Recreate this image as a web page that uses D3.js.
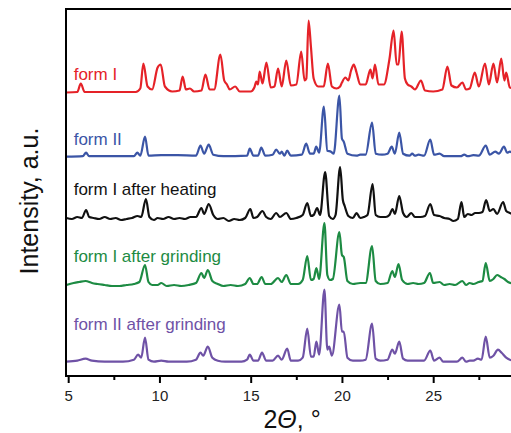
<!DOCTYPE html>
<html>
<head>
<meta charset="utf-8">
<script src="https://cdn.jsdelivr.net/npm/d3@7"></script>
<style>
  body { margin: 0; background: #fff; }
  svg { display: block; font-family: "Liberation Sans", Arial, sans-serif; }
</style>
</head>
<body>
<div class="container"></div>
<script>
// diffraction patterns: [2theta, intensity above own baseline]
const formI = [
  [4.9,0],[5.5,0.5],[5.69,9],[5.9,0.5],[8.7,0.5],[8.95,4],[9.12,29],[9.35,6],[9.6,3],[9.9,25],[10.07,28],
  [10.3,6],[10.7,1],[11.1,2],[11.27,16],[11.45,3],[11.67,4],[11.9,1],[12.3,2],[12.52,18],[12.75,3],[13.0,3],
  [13.34,38],[13.55,12],[13.7,8],[13.85,3],[14.15,6],[14.4,1],[15.0,1],[15.2,5],[15.31,11],[15.4,8],[15.49,21],
  [15.65,9],[15.86,30],[16.1,5],[16.3,6],[16.5,24],[16.7,6],[16.95,32],[17.2,7],[17.5,8],[17.77,41],[17.95,12],
  [18.05,14],[18.17,72],[18.3,46],[18.45,14],[18.7,6],[19.0,6],[19.23,29],[19.45,6],[19.7,4],[19.9,6],[20.0,10],
  [20.19,15],[20.35,12],[20.5,22],[20.65,28],[20.8,20],[21.0,8],[21.3,8],[21.56,23],[21.68,14],[21.81,28],
  [22.0,8],[22.3,8],[22.6,33],[22.83,62],[23.0,28],[23.1,28],[23.27,61],[23.45,14],[23.6,8],[23.8,6],[24.0,3],
  [24.33,12],[24.55,2],[25.0,1],[25.5,3],[25.78,26],[26.0,7],[26.3,5],[26.6,10],[26.8,3],[27.0,4],[27.28,20],
  [27.5,6],[27.84,29],[28.05,8],[28.3,29],[28.5,10],[28.73,34],[28.9,12],[29.0,20],[29.2,5],[29.5,4]
];
const formII = [
  [4.9,0],[5.8,0.5],[5.98,4],[6.15,0.5],[8.6,0.5],[8.79,4],[8.95,1],[9.21,20],[9.4,1],[10.1,1.5],[11.0,1.5],
  [12.0,1],[12.25,11],[12.45,3],[12.7,12],[12.95,2],[13.5,0.5],[14.8,1],[14.95,8],[15.15,1],[15.4,1],[15.58,9],
  [15.8,1],[16.2,2],[16.4,7],[16.6,3],[16.7,5],[16.85,1],[17.0,6],[17.2,1],[17.8,2],[18.04,13],[18.25,3],
  [18.45,3],[18.59,10],[18.75,4],[19.01,50],[19.2,6],[19.4,5],[19.55,3],[19.86,61],[20.0,18],[20.1,15],[20.3,3],
  [20.8,1],[21.0,2],[21.3,2],[21.65,34],[21.85,3],[22.2,2],[22.5,3],[22.73,10],[22.9,3],[23.14,24],[23.35,3],
  [23.7,1],[23.85,3],[24.0,1],[24.2,2],[24.5,1],[24.84,17],[25.05,2],[25.35,3],[25.6,0.5],[26.5,0.5],[26.7,2],
  [26.9,0.5],[27.2,1.5],[27.5,1],[27.88,11],[28.1,2],[28.4,5],[28.6,3],[28.88,10],[29.05,4],[29.2,5],[29.5,1]
];
const formIHeated = [
  [4.9,0],[5.2,-1],[5.5,1],[5.75,0],[5.98,8],[6.15,1],[6.4,0],[6.7,-1],[7.0,1],[7.3,-1],[7.6,0],[7.9,-2],
  [8.2,-1],[8.5,0],[8.8,2],[9.0,1],[9.26,19],[9.45,1],[9.7,-2],[9.9,0],[10.2,-1],[10.5,1],[10.8,-1],[11.1,0],
  [11.4,-1],[11.7,1],[12.0,1],[12.3,10],[12.45,4],[12.7,14],[12.95,3],[13.2,-1],[13.5,0],[13.8,-3],[14.1,-1],
  [14.4,-2],[14.7,0],[14.98,9],[15.15,0],[15.35,1],[15.64,7],[15.85,1],[16.1,-1],[16.4,5],[16.6,1],[16.95,5],
  [17.2,-1],[17.5,0],[17.85,3],[18.1,15],[18.3,2],[18.45,3],[18.64,10],[18.8,3],[19.08,46],[19.3,2],[19.5,-1],
  [19.65,3],[19.9,51],[20.05,18],[20.15,12],[20.35,2],[20.6,0],[20.8,5],[21.0,0],[21.2,1],[21.4,3],[21.68,34],
  [21.85,3],[22.1,1],[22.4,1],[22.6,3],[22.77,9],[22.9,4],[23.14,22],[23.35,5],[23.55,1],[23.8,5],[24.0,1],
  [24.3,1],[24.55,2],[24.84,14],[25.05,3],[25.35,2],[25.6,0],[25.9,-1],[26.1,-3],[26.35,-1],[26.55,16],[26.7,1],
  [26.9,4],[27.1,3],[27.3,5],[27.5,5],[27.7,6],[27.9,18],[28.1,7],[28.3,9],[28.5,4],[28.83,16],[29.0,7],
  [29.2,5],[29.5,3]
];
const formIGround = [
  [4.9,0],[5.3,2],[5.6,3],[5.95,4],[6.3,2],[6.6,1],[7.0,0],[7.4,-1],[7.8,-1],[8.2,0],[8.6,1],[8.9,3],[9.21,20],
  [9.4,3],[9.6,0],[9.9,0],[10.1,2],[10.4,-1],[10.8,0],[11.2,-1],[11.6,0],[12.0,2],[12.3,12],[12.45,7],[12.65,15],
  [12.9,4],[13.2,1],[13.5,-1],[13.9,0],[14.3,-1],[14.7,1],[14.95,7],[15.15,1],[15.35,1],[15.6,8],[15.8,1],
  [16.1,1],[16.5,7],[16.7,3],[16.95,10],[17.2,1],[17.6,1],[17.85,5],[18.1,29],[18.3,5],[18.45,6],[18.6,17],
  [18.75,6],[19.04,62],[19.2,10],[19.35,5],[19.5,6],[19.86,53],[20.0,30],[20.1,28],[20.3,4],[20.6,1],[21.0,2],
  [21.3,2],[21.65,39],[21.85,4],[22.1,1],[22.5,2],[22.76,14],[22.9,8],[23.1,21],[23.3,5],[23.6,1],[23.9,2],
  [24.2,1],[24.5,2],[24.82,12],[25.0,2],[25.35,3],[25.6,0],[25.9,1],[26.2,0],[26.6,4],[26.8,0],[27.0,2],
  [27.2,1],[27.5,3],[27.7,4],[27.88,22],[28.1,4],[28.3,6],[28.5,10],[28.7,8],[28.9,6],[29.1,3],[29.5,1]
];
const formIIGround = [
  [4.9,0],[5.5,1],[5.95,3],[6.3,1],[7.0,0],[8.0,0],[8.6,2],[8.83,7],[9.0,4],[9.21,24],[9.4,2],[9.7,0],[10.1,1],
  [10.5,0],[11.5,0],[12.0,2],[12.25,9],[12.4,6],[12.65,15],[12.9,4],[13.2,1],[13.6,0],[14.5,0],[14.8,2],
  [14.95,7],[15.15,1],[15.4,1],[15.62,9],[15.85,1],[16.2,1],[16.5,6],[16.7,2],[17.0,13],[17.2,1],[17.6,1],
  [17.85,4],[18.1,33],[18.3,5],[18.45,5],[18.6,20],[18.75,7],[19.04,72],[19.2,12],[19.3,15],[19.45,6],
  [19.86,57],[20.0,30],[20.1,30],[20.3,4],[20.6,1],[21.0,1],[21.3,2],[21.65,38],[21.85,3],[22.1,1],[22.5,2],
  [22.76,12],[22.9,8],[23.14,20],[23.35,3],[23.6,1],[23.85,1],[24.1,1],[24.3,1],[24.5,1],[24.84,11],[25.05,1],
  [25.35,4],[25.55,0],[26.0,0],[26.3,0],[26.6,4],[26.8,0],[27.0,1],[27.2,1],[27.45,3],[27.65,2],[27.88,25],
  [28.1,4],[28.3,6],[28.55,12],[28.75,9],[29.0,4],[29.2,2],[29.5,1]
];

const names = ['form I', 'form II', 'form I after heating', 'form I after grinding', 'form II after grinding'];
const offsets = [283.5, 219.3, 158, 91, 14.3]; // vertical stacking, a.u.
const xTicks = [5, 10, 15, 20, 25];
const xMinor = [7.5, 12.5, 17.5, 22.5, 27.5];

const series = [formI, formII, formIHeated, formIGround, formIIGround];
const colors = ['#e52228', '#3b55a6', '#111111', '#1d8b43', '#6f52a6'];
const labelLift = [12.5, 12, 23, 23, 31.5];

const width = 511;
const height = 433;
const margin = { top: 9, left: 66, bottom: 57 };

const svg = d3
  .select('.container')
  .append('svg')
  .attr('width', width)
  .attr('height', height);

const x = d3.scaleLinear().domain([4.88, 30]).range([margin.left, margin.left + 25.12 * 18.25]);
const y = d3.scaleLinear().domain([0, 367]).range([height - margin.bottom, margin.top]);

const line = d3
  .line()
  .x((d) => x(d[0]))
  .curve(d3.curveMonotoneX);

svg
  .append('g')
  .attr('class', 'patterns')
  .selectAll('path')
  .data(series)
  .join('path')
  .attr('fill', 'none')
  .attr('stroke', (d, i) => colors[i])
  .attr('stroke-width', 2.2)
  .attr('stroke-linejoin', 'round')
  .attr('d', (d, i) => line.y((p) => y(p[1] + offsets[i]))(d));

svg
  .append('g')
  .attr('class', 'labels')
  .selectAll('text')
  .data(names)
  .join('text')
  .attr('x', x(5.3))
  .attr('y', (d, i) => y(offsets[i]) - labelLift[i])
  .attr('fill', (d, i) => colors[i])
  .attr('font-size', 17)
  .text((d) => d);

// frame
svg
  .append('rect')
  .attr('x', margin.left)
  .attr('y', margin.top)
  .attr('width', x(30) - margin.left)
  .attr('height', y(0) - margin.top)
  .attr('fill', 'none')
  .attr('stroke', '#000')
  .attr('stroke-width', 2);

const xAxis = svg
  .append('g')
  .attr('class', 'x-axis')
  .attr('transform', `translate(0, ${y(0)})`)
  .call(d3.axisBottom(x).tickValues(xTicks).tickSize(7).tickSizeOuter(0).tickPadding(7).tickFormat(d3.format('d')));
xAxis.select('.domain').remove();
xAxis.selectAll('line').attr('stroke-width', 2);
xAxis.selectAll('text').attr('font-size', 15).attr('fill', '#222').attr('font-family', 'Liberation Sans, Arial, sans-serif');

svg
  .append('g')
  .attr('class', 'x-minor')
  .attr('transform', `translate(0, ${y(0)})`)
  .call(d3.axisBottom(x).tickValues(xMinor).tickSize(4).tickFormat(''))
  .call((g) => g.select('.domain').remove())
  .selectAll('line')
  .attr('stroke-width', 2);

const xTitle = svg
  .append('text')
  .attr('x', 292)
  .attr('y', 428)
  .attr('text-anchor', 'middle')
  .attr('font-size', 25)
  .attr('fill', '#111');
xTitle.append('tspan').text('2');
xTitle.append('tspan').attr('font-style', 'italic').text('Θ');
xTitle.append('tspan').text(', °');

svg
  .append('text')
  .attr('transform', `translate(38, ${201}) rotate(-90)`)
  .attr('text-anchor', 'middle')
  .attr('font-size', 25)
  .attr('fill', '#111')
  .text('Intensity, a.u.');
</script>
</body>
</html>
